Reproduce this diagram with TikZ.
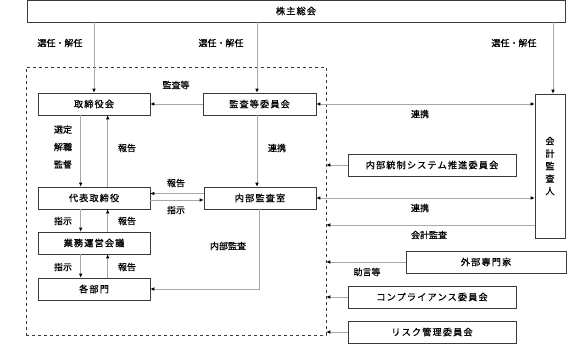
\documentclass[tikz,border=0pt]{standalone}
\usepackage{fontspec}
\setmainfont[FakeBold=0.8]{Noto Sans CJK JP}
\newfontfamily\jpbox[LetterSpace=12,FakeBold=0.8]{Noto Sans CJK JP}
\usetikzlibrary{arrows.meta,positioning,calc}
\definecolor{gline}{HTML}{A8A8A8}
\definecolor{gbox}{HTML}{3A3A3A}
\tikzset{
  box/.style={draw=gbox,fill=white,line width=0.6pt,align=center,font=\jpbox\fontsize{9.2}{10}\selectfont,inner sep=1pt,minimum height=22pt},
  lbl/.style={font=\fontsize{9}{10}\selectfont,inner sep=0pt},
  arr/.style={-{Latex[length=4pt,width=3.6pt,color=black]},line width=0.7pt,draw=gline},
  darr/.style={{Latex[length=4pt,width=3.6pt,color=black]}-{Latex[length=4pt,width=3.6pt,color=black]},line width=0.7pt,draw=gline},
}
\begin{document}
\begin{tikzpicture}[x=1pt,y=-1pt]
  \useasboundingbox (0,0) rectangle (578,345);
  % frame and main boxes
  \node[draw=gbox,dashed,line width=0.6pt,minimum width=300pt,minimum height=268pt,inner sep=0pt] (frame) at (176,201) {};
  \node[box,minimum width=538pt] (kabu) at (296,11) {株主総会};
  \node[box,minimum width=112pt] (tori) at (94,104) {取締役会};
  \node[box,minimum width=113pt] (kiin) at (259.5,104) {監査等委員会};
  \node[box,minimum width=112pt] (daihyo) at (94,198) {代表取締役};
  \node[box,minimum width=112pt] (naibu) at (260,198) {内部監査室};
  \node[box,minimum width=112pt] (gyomu) at (94,243) {業務運営会議};
  \node[box,minimum width=112pt] (kakubu) at (94,289) {各部門};
  \node[box,minimum width=30pt,minimum height=144pt,font=\fontsize{9.2}{12.5}\selectfont] (kaikei) at (550,166) {会\\計\\監\\査\\人};
  \node[box,minimum width=168pt] (naitou) at (432,165) {内部統制システム推進委員会};
  \node[box,minimum width=160pt] (gaibu) at (486,262) {外部専門家};
  \node[box,minimum width=168pt] (comp) at (432,297) {コンプライアンス委員会};
  \node[box,minimum width=168pt] (risk) at (432,332) {リスク管理委員会};
  % shareholders
  \draw[arr] (kabu.south -| tori.north) -- (tori.north);
  \draw[arr] ([xshift=-2.5pt]kabu.south -| kiin.north) -- ([xshift=-2.5pt]kiin.north);
  \draw[arr] ([xshift=3pt]kabu.south -| kaikei.north) -- ([xshift=3pt]kaikei.north);
  \node[lbl] (l1) at (60,43) {選任・解任};
  \node[lbl] (l2) at (221,43) {選任・解任};
  \node[lbl] (l3) at (514,43) {選任・解任};
  % inside the frame
  \draw[arr] (kiin.west) -- (tori.east);
  \node[lbl] (l4) at (176,85) {監査等};
  \draw[arr] ([xshift=43pt]tori.south west) -- ([xshift=43pt]daihyo.north west);
  \draw[arr] ([xshift=70pt]daihyo.north west) -- ([xshift=70pt]tori.south west);
  \node[lbl,align=center,font=\fontsize{9}{17.5}\selectfont] (l5) at (63,147) {選定\\解職\\監督};
  \node[lbl] (l6) at (127,148) {報告};
  \draw[arr] ([xshift=-2.5pt]kiin.south) -- ([xshift=-2.5pt]kiin.south |- naibu.north);
  \node[lbl] (l7) at (277,148) {連携};
  \draw[arr] ([yshift=4.5pt]naibu.west) -- ([yshift=4.5pt]daihyo.east);
  \draw[arr] ([yshift=-2pt]daihyo.east) -- ([yshift=-2pt]naibu.west);
  \node[lbl] (l8) at (176,183) {報告};
  \node[lbl] (l9) at (176,210) {指示};
  \draw[arr] ([xshift=43pt]daihyo.south west) -- ([xshift=43pt]gyomu.north west);
  \draw[arr] ([xshift=70pt]gyomu.north west) -- ([xshift=70pt]daihyo.south west);
  \node[lbl] (l10) at (63,221) {指示};
  \node[lbl] (l11) at (127,221) {報告};
  \draw[arr] ([xshift=43pt]gyomu.south west) -- ([xshift=43pt]kakubu.north west);
  \draw[arr] ([xshift=70pt]kakubu.north west) -- ([xshift=70pt]gyomu.south west);
  \node[lbl] (l12) at (63,267) {指示};
  \node[lbl] (l13) at (127,267) {報告};
  \draw[arr] ([xshift=56pt]naibu.south west) |- (kakubu.east);
  \node[lbl] (l14) at (228,246) {内部監査};
  % outside the frame
  \draw[darr] (kiin.east) -- (kiin.east -| kaikei.west);
  \node[lbl] (l15) at (420,114) {連携};
  \draw[arr] (naitou.west) -- (naitou.west -| frame.east);
  \draw[darr] (naibu.east) -- (naibu.east -| kaikei.west);
  \node[lbl] (l16) at (420,208) {連携};
  \draw[arr] (kaikei.west |- 0,225) -- (frame.east |- 0,225);
  \node[lbl] (l17) at (429,235) {会計監査};
  \draw[arr] (gaibu.west) -- (gaibu.west -| frame.east);
  \node[lbl] (l18) at (367,272) {助言等};
  \draw[arr] (comp.west) -- (comp.west -| frame.east);
  \draw[arr] (risk.west) -- (risk.west -| frame.east);
\end{tikzpicture}
\end{document}
